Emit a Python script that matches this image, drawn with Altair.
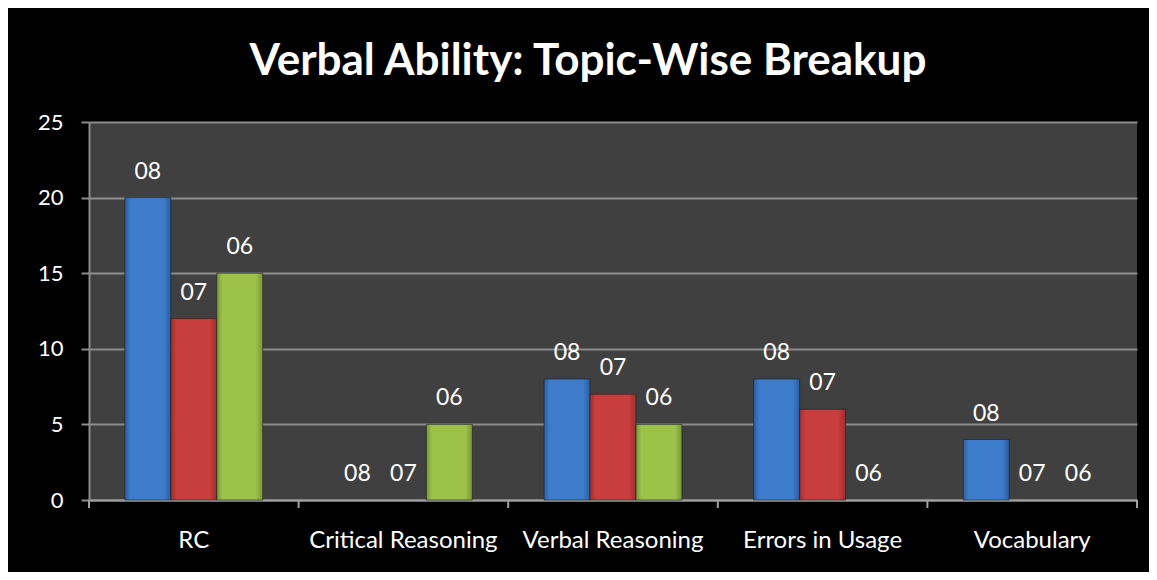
import altair as alt
import pandas as pd

categories = ["RC", "Critical Reasoning", "Verbal Reasoning", "Errors in Usage", "Vocabulary"]
series = ["08", "07", "06"]
values_08 = [20, 0, 8, 8, 4]
values_07 = [12, 0, 7, 6, 0]
values_06 = [15, 5, 5, 0, 0]
# (edge, centre) colours per series
shades = {
    "08": ("#2b5e9f", "#3d7cca"),
    "07": ("#9c2f2f", "#c83d3d"),
    "06": ("#76963a", "#9cc24a"),
}

rows = []
for s, vals in zip(series, [values_08, values_07, values_06]):
    for c, v in zip(categories, vals):
        rows.append({"cat": c, "series": s, "value": v})
df = pd.DataFrame(rows)

FONT = "Lato"
W, H = 1048, 378
GRID = "#8c8c8c"

x_scale = alt.Scale(domain=categories, paddingInner=0, paddingOuter=0)
y_scale = alt.Scale(domain=[0, 25], nice=False, zero=True)

x_enc = alt.X("cat:N", sort=categories, title=None, scale=x_scale,
              axis=alt.Axis(labelColor="white", labelFontSize=24, labelFont=FONT,
                            labelPadding=28, ticks=False, domainColor="#a0a0a0",
                            domainWidth=2, labelAngle=0, labelLimit=0))
xo = alt.XOffset("series:N", sort=series,
                 scale=alt.Scale(domain=series, paddingInner=0, paddingOuter=0.78))
y_enc = alt.Y("value:Q", title=None, scale=y_scale,
              axis=alt.Axis(values=[0, 5, 10, 15, 20, 25], labelColor="white",
                            labelFontSize=22, labelFont=FONT, labelPadding=18,
                            tickSize=8, tickColor=GRID, domainColor=GRID,
                            domainWidth=2, tickWidth=2,
                            gridColor=GRID, gridWidth=2))

layers = []
for i, s in enumerate(series):
    edge, centre = shades[s]
    grad = alt.Gradient(gradient="linear", x1=0, x2=1, y1=0, y2=0,
                        stops=[alt.GradientStop(color=edge, offset=0),
                               alt.GradientStop(color=centre, offset=0.12),
                               alt.GradientStop(color=centre, offset=0.85),
                               alt.GradientStop(color=edge, offset=1)])
    b = alt.Chart(df).transform_filter(
        (alt.datum.series == s) & (alt.datum.value > 0)
    ).mark_bar(
        fill=grad, stroke="#1e1e1e", strokeWidth=1, strokeOpacity=0.6
    ).encode(x=x_enc, xOffset=xo, y=y_enc)
    layers.append(b)

labels = alt.Chart(df).mark_text(color="white", fontSize=23, font=FONT,
                                 baseline="middle", dy=-26).encode(
    x=x_enc, xOffset=xo, y=y_enc, text="series:N")

ticks_df = pd.DataFrame({"cat": categories})
ticks = alt.Chart(ticks_df).mark_rule(color="#a0a0a0", strokeWidth=2).encode(
    x=alt.X("cat:N", sort=categories, bandPosition=0, scale=x_scale),
    y=alt.value(H), y2=alt.value(H + 8))
last_tick = alt.Chart(ticks_df).mark_rule(color="#a0a0a0", strokeWidth=2).encode(
    x=alt.value(W), y=alt.value(H), y2=alt.value(H + 8))

chart = alt.layer(*layers, labels, ticks, last_tick).properties(
    width=W, height=H,
    title=alt.TitleParams("Verbal Ability: Topic-Wise Breakup", color="white",
                          fontSize=44, font=FONT, fontWeight="bold",
                          anchor="middle", dx=-25, offset=27),
    background="black",
    padding={"left": 81, "top": 114, "right": 12, "bottom": 72},
    autosize="none",
).configure_view(fill="#404040", stroke=None)

chart.save("out.html", embed_options={"renderer": "svg", "actions": False})
